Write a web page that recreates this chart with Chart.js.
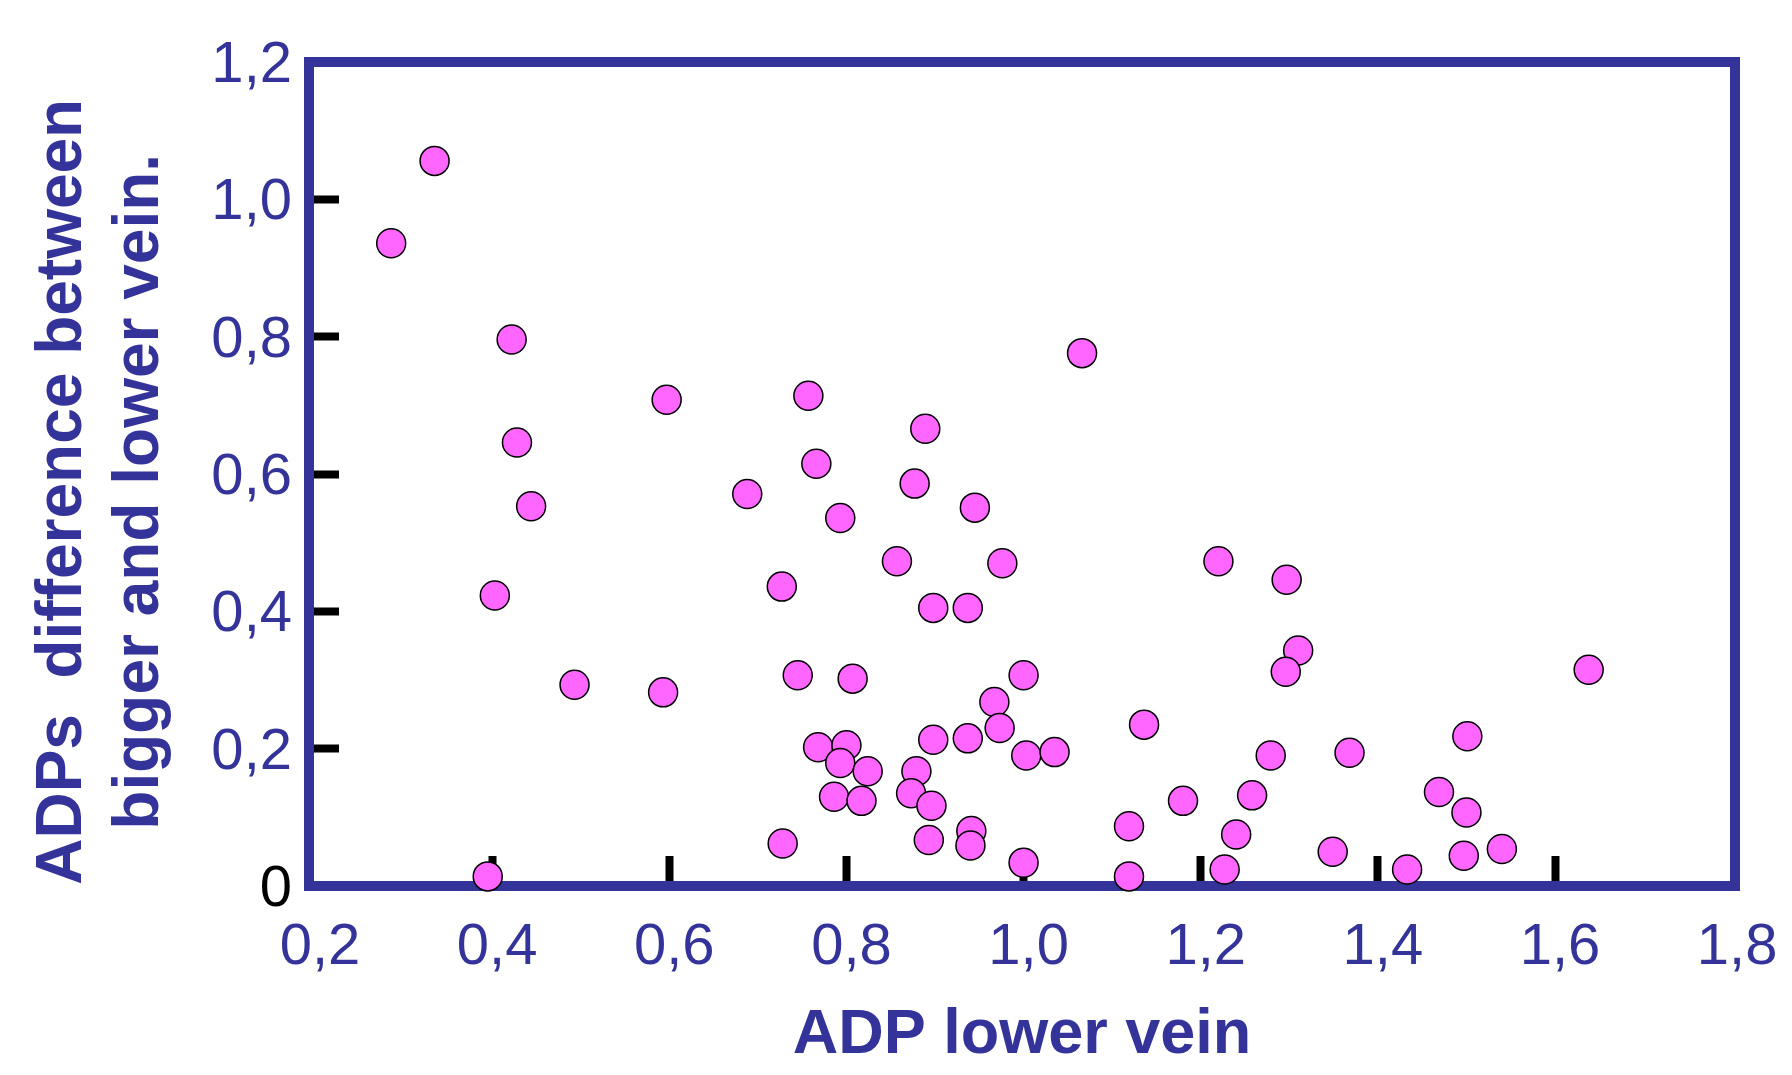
<!DOCTYPE html>
<html>
<head>
<meta charset="utf-8">
<script src="https://cdn.jsdelivr.net/npm/chart.js@4.4.1/dist/chart.umd.min.js"></script>
<style>
  html, body { margin: 0; padding: 0; background: #ffffff; }
  #wrap { width: 1792px; height: 1075px; position: relative; }
</style>
</head>
<body>
<div id="wrap"><canvas id="c" width="1792" height="1075"></canvas></div>
<script>
// ---- Data ----
const xTicks = [0.2, 0.4, 0.6, 0.8, 1.0, 1.2, 1.4, 1.6, 1.8];
const yTicks = [0, 0.2, 0.4, 0.6, 0.8, 1.0, 1.2];

const xTitle = 'ADP lower vein';
const yTitle = ['ADPs  difference between  ', 'bigger and lower vein.  '];

// ADP lower vein (x)
const adpLower = [
  0.286, 0.335, 0.422, 0.428, 0.444, 0.403, 0.395, 0.493, 0.597, 0.593,
  0.688, 0.727, 0.728, 0.745, 0.757, 0.766, 0.793, 0.768, 0.800, 0.793,
  0.824, 0.786, 0.817, 0.807, 0.857, 0.877, 0.889, 0.898, 0.937, 0.945,
  0.976, 0.879, 0.873, 0.898, 0.896, 0.893, 0.937, 0.941, 0.940, 0.967,
  0.973, 1.000, 1.003, 1.035, 1.000, 1.066, 1.119, 1.119, 1.136, 1.180,
  1.220, 1.227, 1.240, 1.258, 1.279, 1.297, 1.310, 1.296, 1.349, 1.368,
  1.433, 1.469, 1.501, 1.500, 1.497, 1.540, 1.638
];
// ADPs difference between bigger and lower vein (y)
const adpDiff = [
  0.936, 1.056, 0.796, 0.646, 0.553, 0.423, 0.014, 0.293, 0.708, 0.282,
  0.571, 0.436, 0.062, 0.307, 0.714, 0.615, 0.536, 0.202, 0.205, 0.179,
  0.167, 0.130, 0.124, 0.302, 0.473, 0.586, 0.666, 0.405, 0.405, 0.551,
  0.470, 0.167, 0.135, 0.213, 0.117, 0.067, 0.215, 0.080, 0.059, 0.268,
  0.230, 0.307, 0.190, 0.195, 0.034, 0.776, 0.087, 0.014, 0.235, 0.124,
  0.473, 0.024, 0.075, 0.132, 0.190, 0.446, 0.343, 0.312, 0.050, 0.194,
  0.024, 0.137, 0.218, 0.107, 0.044, 0.054, 0.315
];

const points = adpLower.map((x, i) => ({ x: x, y: adpDiff[i] }));

const BLUE = '#333399';
const FONT = "'Liberation Sans', Arial, sans-serif";
const fmt = v => (Math.abs(v) < 1e-9 ? '0' : Number(v).toFixed(1).replace('.', ','));
const near = (a, b) => Math.abs(a - b) < 1e-6;

const framePlugin = {
  id: 'frame',
  beforeDatasetsDraw(chart) {
    const { ctx, chartArea: a } = chart;
    ctx.save();
    ctx.strokeStyle = BLUE;
    ctx.lineWidth = 10;
    ctx.lineJoin = 'miter';
    ctx.strokeRect(a.left, a.top, a.right - a.left, a.bottom - a.top);
    ctx.restore();
  }
};

new Chart(document.getElementById('c'), {
  type: 'scatter',
  data: {
    datasets: [{
      data: points,
      backgroundColor: '#FF66FF',
      borderColor: '#000000',
      borderWidth: 1.5,
      pointRadius: 14.5,
      pointHoverRadius: 14.5,
      clip: false
    }]
  },
  options: {
    responsive: false,
    animation: false,
    events: [],
    layout: { padding: { left: 0, top: 62, right: 57, bottom: 0 } },
    plugins: { legend: { display: false }, tooltip: { enabled: false } },
    scales: {
      x: {
        type: 'linear',
        min: 0.1932,
        max: 1.8032,
        afterBuildTicks: s => { s.ticks = xTicks.map(v => ({ value: v })); },
        afterFit: s => { s.height = 189; s.paddingLeft = 0; s.paddingRight = 0; s.paddingTop = 0; s.paddingBottom = 0; },
        border: { display: false },
        grid: {
          drawOnChartArea: false,
          drawTicks: true,
          tickLength: -30,
          tickWidth: 8,
          tickColor: c => (near(c.tick.value, 0.2) || near(c.tick.value, 1.8)) ? 'rgba(0,0,0,0)' : '#000000'
        },
        ticks: {
          autoSkip: false,
          maxRotation: 0,
          padding: 57,
          labelOffset: 5,
          color: BLUE,
          font: { family: FONT, size: 58 },
          callback: v => fmt(v)
        },
        title: {
          display: true,
          text: xTitle,
          color: BLUE,
          font: { family: FONT, size: 63, weight: 'bold' },
          padding: { top: 0, bottom: 2 }
        }
      },
      y: {
        type: 'linear',
        min: 0,
        max: 1.2,
        afterBuildTicks: s => { s.ticks = yTicks.map(v => ({ value: v })); },
        afterFit: s => { s.width = 309; s.paddingLeft = 0; s.paddingRight = 0; s.paddingTop = 0; s.paddingBottom = 0; },
        border: { display: false },
        grid: {
          drawOnChartArea: false,
          drawTicks: true,
          tickLength: -30,
          tickWidth: 8,
          tickColor: c => (near(c.tick.value, 0) || near(c.tick.value, 1.2)) ? 'rgba(0,0,0,0)' : '#000000'
        },
        ticks: {
          autoSkip: false,
          padding: 47,
          labelOffset: 4,
          color: c => near(c.tick.value, 0) ? '#000000' : BLUE,
          font: { family: FONT, size: 58 },
          callback: v => fmt(v)
        },
        title: {
          display: true,
          text: yTitle,
          color: BLUE,
          font: { family: FONT, size: 64, weight: 'bold', lineHeight: 1.2 },
          padding: { top: 25, bottom: 0 }
        }
      }
    }
  },
  plugins: [framePlugin]
});
</script>
</body>
</html>
